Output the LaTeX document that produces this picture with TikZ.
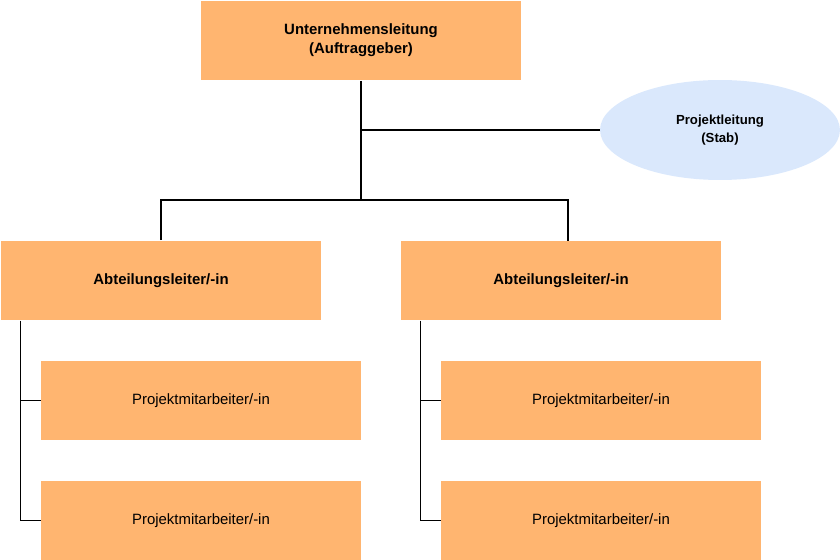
\documentclass[tikz,border=0pt]{standalone}
\usepackage{fontspec}
\setmainfont{Liberation Sans}
\usetikzlibrary{shapes.geometric}
\definecolor{boxorange}{HTML}{FFB570}
\definecolor{stabblue}{HTML}{DAE8FC}
\begin{document}
\begin{tikzpicture}[x=0.02cm,y=-0.02cm,
   box/.style={fill=boxorange,minimum width=6.4cm,minimum height=1.6cm,
     align=center,font=\fontsize{8.5}{11}\selectfont},
   head/.style={box,font=\fontsize{8.5}{11}\selectfont\bfseries},
   stab/.style={ellipse,fill=stabblue,minimum width=4.8cm,minimum height=2cm,
     align=center,font=\fontsize{7.5}{10}\selectfont\bfseries},
   line/.style={draw,line width=0.6pt}]
\useasboundingbox (0,0) rectangle (840,560);

\node[head] (chef) at (361,40.5) {Unternehmensleitung\\(Auftraggeber)};
\node[stab] (stab) at (720,130) {Projektleitung\\(Stab)};
\node[head] (abtL) at (161,280.5) {Abteilungsleiter/-in};
\node[head] (abtR) at (561,280.5) {Abteilungsleiter/-in};
\node[box] (maL1) at (201,400.5) {Projektmitarbeiter/-in};
\node[box] (maL2) at (201,520.5) {Projektmitarbeiter/-in};
\node[box] (maR1) at (601,400.5) {Projektmitarbeiter/-in};
\node[box] (maR2) at (601,520.5) {Projektmitarbeiter/-in};

\coordinate (split) at (361,200);
\coordinate (stabjoin) at (361,130);
\draw[line] (chef.south) -- (split);
\draw[line] (stabjoin) -- (stab.west);
\draw[line] (abtL.north) |- (split) -| (568,241);
\draw[line] (abtL.south west) ++(20,0) |- (maL1.west);
\draw[line] (abtL.south west) ++(20,0) |- (maL2.west);
\draw[line] (abtR.south west) ++(20,0) |- (maR1.west);
\draw[line] (abtR.south west) ++(20,0) |- (maR2.west);
\end{tikzpicture}
\end{document}
